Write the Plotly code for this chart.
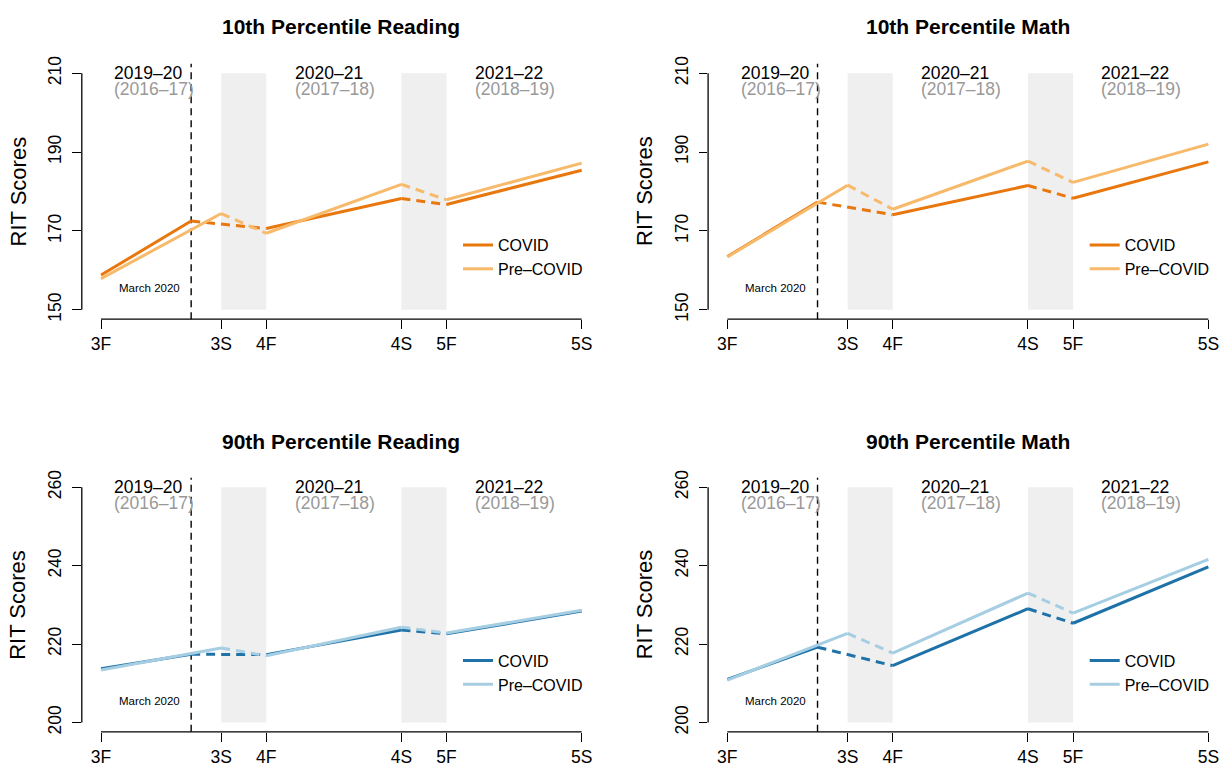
import plotly.graph_objects as go

# ---------------- data ----------------
periods = ["3F", "3S", "4F", "4S", "5F", "5S"]
period_x = [0, 8, 11, 20, 23, 32]          # months since fall of grade 3
march_x = 6                                # March 2020
covid_x = [0, 6, 11, 20, 23, 32]           # 3F, Mar 2020, 4F, 4S, 5F, 5S

panel_titles = ["10th Percentile Reading", "10th Percentile Math",
                "90th Percentile Reading", "90th Percentile Math"]

covid_r10 = [158.8, 172.5, 170.6, 178.2, 176.7, 185.4]
pre_r10 = [157.9, 174.4, 169.4, 181.8, 177.9, 187.2]
covid_m10 = [163.5, 177.3, 174.1, 181.5, 178.3, 187.5]
pre_m10 = [163.4, 181.6, 175.5, 187.7, 182.3, 192.0]
covid_r90 = [213.7, 217.4, 217.3, 223.6, 222.6, 228.4]
pre_r90 = [213.4, 219.0, 217.0, 224.3, 222.8, 228.6]
covid_m90 = [211.0, 219.2, 214.5, 229.0, 225.3, 239.7]
pre_m90 = [210.8, 222.7, 217.7, 233.0, 227.9, 241.6]

y_ticks_10 = [150, 170, 190, 210]
y_ticks_90 = [200, 220, 240, 260]

school_years = ["2019–20", "2020–21", "2021–22"]
pre_years = ["(2016–17)", "(2017–18)", "(2018–19)"]
year_label_x = [0.75, 12.75, 24.75]

series_names = ["COVID", "Pre–COVID"]
orange_dark, orange_light = "#E8770E", "#F7B96A"
blue_dark, blue_light = "#1F72A8", "#A6CEE3"

# ---------------- layout geometry ----------------
W, H = 1221, 768
FONT = "Liberation Sans, Arial, Helvetica, sans-serif"

panels = [
    dict(covid=covid_r10, pre=pre_r10, ticks=y_ticks_10, c=(orange_dark, orange_light),
         xdom=(81.8, 600.9), xr=(-1.28, 33.28), ydom=(56.5, 315.3)),
    dict(covid=covid_m10, pre=pre_m10, ticks=y_ticks_10, c=(orange_dark, orange_light),
         xdom=(708.1, 1221.0), xr=(-1.28, 32.84), ydom=(56.5, 315.3)),
    dict(covid=covid_r90, pre=pre_r90, ticks=y_ticks_90, c=(blue_dark, blue_light),
         xdom=(81.8, 600.9), xr=(-1.28, 33.28), ydom=(476.0, 733.4)),
    dict(covid=covid_m90, pre=pre_m90, ticks=y_ticks_90, c=(blue_dark, blue_light),
         xdom=(708.1, 1221.0), xr=(-1.28, 32.84), ydom=(476.0, 733.4)),
]


def segs(xs, ys, pairs):
    ox, oy = [], []
    for a, b in pairs:
        ox += [xs[a], xs[b], None]
        oy += [ys[a], ys[b], None]
    return ox, oy


fig = go.Figure()
layout = dict(width=W, height=H, margin=dict(l=0, r=0, t=0, b=0),
              paper_bgcolor="white", plot_bgcolor="white",
              font=dict(family=FONT, color="black"), showlegend=True)
shapes, annotations = [], []

solid_pairs = [(0, 1), (2, 3), (4, 5)]
dash_pairs = [(1, 2), (3, 4)]

for i, p in enumerate(panels):
    k = "" if i == 0 else str(i + 1)
    xa, ya = "x" + k, "y" + k
    lo, hi = p["ticks"][0], p["ticks"][-1]
    pad = (hi - lo) * 0.04
    legend_id = "legend" + k

    layout["xaxis" + k] = dict(domain=[p["xdom"][0] / W, p["xdom"][1] / W], range=list(p["xr"]),
                               anchor=ya, tickvals=period_x, ticktext=periods, ticks="outside",
                               ticklen=9, tickwidth=1.3, tickcolor="black", showline=False,
                               showgrid=False, zeroline=False, tickfont=dict(size=17.5),
                               fixedrange=True)
    layout["yaxis" + k] = dict(domain=[1 - p["ydom"][1] / H, 1 - p["ydom"][0] / H],
                               range=[lo - pad, hi + pad], anchor=xa, tickvals=p["ticks"],
                               ticks="outside", ticklen=8.5, tickwidth=1.3, tickcolor="black",
                               showline=False, showgrid=False, zeroline=False, tickangle=-90,
                               tickfont=dict(size=17.5), ticklabelstandoff=4, fixedrange=True)

    # grey bands (summers)
    for a, b in [(1, 2), (3, 4)]:
        shapes.append(dict(type="rect", xref=xa, yref=ya, x0=period_x[a], x1=period_x[b],
                           y0=lo, y1=hi, fillcolor="#EFEFEF", line=dict(width=0), layer="below"))
    # March 2020 line
    shapes.append(dict(type="line", xref=xa, yref=ya + " domain", x0=march_x, x1=march_x, y0=0, y1=1,
                       line=dict(color="black", width=1.4, dash="7px,5px"), layer="below"))
    # axis lines (R style, spanning tick range only)
    shapes.append(dict(type="line", xref=xa, yref=ya + " domain", x0=period_x[0], x1=period_x[-1],
                       y0=0, y1=0, line=dict(color="black", width=1.3)))
    shapes.append(dict(type="line", xref=xa + " domain", yref=ya, x0=0, x1=0, y0=lo, y1=hi,
                       line=dict(color="black", width=1.3)))

    cd, cl = p["c"]
    # COVID
    sx, sy = segs(covid_x, p["covid"], solid_pairs)
    fig.add_trace(go.Scatter(x=sx, y=sy, mode="lines", name=series_names[0], xaxis=xa, yaxis=ya,
                             line=dict(color=cd, width=3), legend=legend_id, hoverinfo="skip"))
    dx, dy = segs(covid_x, p["covid"], dash_pairs)
    fig.add_trace(go.Scatter(x=dx, y=dy, mode="lines", showlegend=False, xaxis=xa, yaxis=ya,
                             line=dict(color=cd, width=3, dash="9px,6px"), hoverinfo="skip"))
    # Pre-COVID
    sx, sy = segs(period_x, p["pre"], solid_pairs)
    fig.add_trace(go.Scatter(x=sx, y=sy, mode="lines", name=series_names[1], xaxis=xa, yaxis=ya,
                             line=dict(color=cl, width=3), legend=legend_id, hoverinfo="skip"))
    dx, dy = segs(period_x, p["pre"], dash_pairs)
    fig.add_trace(go.Scatter(x=dx, y=dy, mode="lines", showlegend=False, xaxis=xa, yaxis=ya,
                             line=dict(color=cl, width=3, dash="9px,6px"), hoverinfo="skip"))

    # legend
    lx = 458.0 if i % 2 == 0 else 1084.7
    ly = 223.0 if i < 2 else 644.0
    layout[legend_id] = dict(x=lx / W, y=1 - ly / H, xanchor="left", yanchor="top",
                             bgcolor="rgba(0,0,0,0)", font=dict(size=16, family=FONT),
                             itemwidth=30, tracegroupgap=0)

    # year labels
    for yx, s1, s2 in zip(year_label_x, school_years, pre_years):
        annotations.append(dict(x=yx, y=hi + 0.1, xref=xa, yref=ya, text=s1, showarrow=False,
                                xanchor="left", yanchor="middle", font=dict(size=17.5, color="black")))
        annotations.append(dict(x=yx, y=hi - 4.1, xref=xa, yref=ya, text=s2, showarrow=False,
                                xanchor="left", yanchor="middle", font=dict(size=17.5, color="#999999")))
    annotations.append(dict(x=5.37, y=lo + 5.4, xref=xa, yref=ya, text="March 2020", showarrow=False,
                            xanchor="right", yanchor="middle", font=dict(size=11.5, color="black")))

    # panel title
    cx = (p["xdom"][0] + (600.9 if i % 2 == 0 else 1227.5)) / 2
    ty = 19.0 if i < 2 else 439.0
    annotations.append(dict(x=cx / W, y=1 - ty / H, xref="paper", yref="paper",
                            text="<b>" + panel_titles[i] + "</b>", showarrow=False,
                            xanchor="center", yanchor="middle", font=dict(size=21, color="black")))
    # y axis title
    tx = 18.0 if i % 2 == 0 else 644.5
    annotations.append(dict(x=tx / W, y=1 - (p["ydom"][0] + p["ydom"][1]) / 2 / H, xref="paper",
                            yref="paper", text="RIT Scores", showarrow=False, textangle=-90,
                            xanchor="center", yanchor="middle", font=dict(size=22, color="black")))

layout["shapes"] = shapes
layout["annotations"] = annotations
fig.update_layout(**layout)
fig.write_html("out.html", config={"displayModeBar": False},
               post_script="document.body.style.margin='0px';document.body.style.overflow='hidden';")
